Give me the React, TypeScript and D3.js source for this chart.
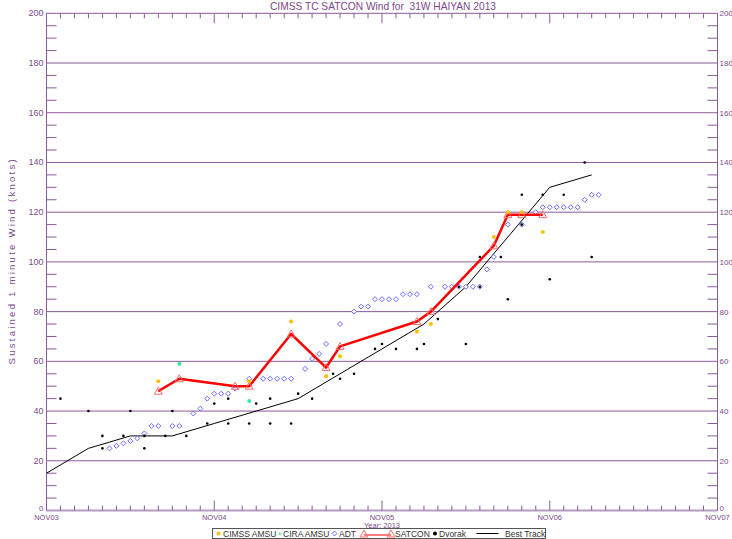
import React from 'react';
import * as d3 from 'd3';

// hours after NOV03 00Z, winds in knots
const bestTrackHours = [0, 6, 12, 18, 24, 30, 36, 42, 48, 54, 60, 66, 72, 78];
const bestTrackWind = [15, 25, 30, 30, 35, 40, 45, 55, 65, 75, 90, 110, 130, 135];

const satconHours = [16, 19, 27, 29, 35, 40, 42, 53, 55, 64, 66, 68, 71];
const satconWind = [48, 53, 50, 50, 71, 57.5, 66, 76, 80, 106.5, 119, 119, 119];

const cimssHours = [16, 29, 35, 40, 42, 53, 55, 64, 66, 68, 71];
const cimssWind = [52, 52, 76, 54, 62, 72, 75, 110, 120, 120, 112];

const ciraHours = [19, 29];
const ciraWind = [59, 44];

const adtHours = [9, 10, 11, 12, 13, 14, 15, 16, 18, 19, 21, 22, 23, 24, 25, 26, 27, 29, 31, 32, 33, 34, 35,
  37, 38, 39, 40, 42, 44, 45, 46, 47, 48, 49, 50, 51, 52, 53, 55, 57, 58, 59, 60, 61, 62, 63, 64, 66, 68,
  70, 71, 72, 73, 74, 75, 76, 77, 78, 79];
const adtWind = [25, 26, 27, 28, 29, 31, 34, 34, 34, 34, 39, 41, 45, 47, 47, 47, 49, 53, 53, 53, 53, 53, 53,
  57, 61, 63, 67, 75, 80, 82, 82, 85, 85, 85, 85, 87, 87, 87, 90, 90, 90, 90, 90, 90, 90, 97, 102, 115, 115,
  120, 122, 122, 122, 122, 122, 122, 125, 127, 127];

const dvorakHours = [2, 6, 8, 8, 11, 12, 14, 14, 17, 18, 20, 23, 24, 26, 26, 29, 30, 32, 32, 35, 36, 38,
  41, 42, 44, 47, 48, 50, 53, 54, 56, 59, 60, 62, 62, 65, 66, 68, 68, 71, 72, 74, 77, 78];
const dvorakWind = [45, 40, 30, 25, 30, 40, 30, 25, 30, 40, 30, 35, 43, 45, 35, 35, 43, 45, 35, 35, 47, 45,
  55, 53, 55, 65, 67, 65, 65, 67, 77, 90, 67, 90, 102, 102, 85, 127, 115, 127, 93, 127, 140, 102];

const dayLabels = ['NOV03', 'NOV04', 'NOV05', 'NOV06', 'NOV07'];
const windTicks = [0, 20, 40, 60, 80, 100, 120, 140, 160, 180, 200];

const purple = '#8a5a9a';
const textPurple = '#7a4a8a';
const font = '"Liberation Sans", Arial, sans-serif';

const zip = (hs: number[], ws: number[]) => hs.map((h, i) => ({ h, w: ws[i] }));

export default function App() {
  const width = 732;
  const height = 539;
  const left = 46.5;
  const right = 717.5;
  const top = 13.3;
  const bottom = 510.5;

  const x = d3.scaleLinear().domain([0, 96]).range([left, right]);
  const y = d3.scaleLinear().domain([0, 200]).range([bottom, top]);

  const line = d3
    .line<{ h: number; w: number }>()
    .x((d) => x(d.h))
    .y((d) => y(d.w));

  const best = zip(bestTrackHours, bestTrackWind);
  const satcon = zip(satconHours, satconWind);
  const cimss = zip(cimssHours, cimssWind);
  const cira = zip(ciraHours, ciraWind);
  const adt = zip(adtHours, adtWind);
  const dvorak = zip(dvorakHours, dvorakWind);

  const hourTicks = d3.range(0, 97, 2);
  const minorWind = d3.range(0, 201, 5).filter((v) => v % 20 !== 0);

  const tri = (cx: number, cy: number) =>
    `M${cx},${cy - 4}L${cx + 4},${cy + 3}L${cx - 4},${cy + 3}Z`;
  const diamond = (cx: number, cy: number) =>
    `M${cx},${cy - 2.5}L${cx + 2.5},${cy}L${cx},${cy + 2.5}L${cx - 2.5},${cy}Z`;

  // the zero label sits on the axis line so it clears the date labels below
  const labelY = (v: number) => (v === 0 ? y(v) : y(v) + 3);

  return (
    <>
      <style>{'body{margin:0}'}</style>
      <svg width={width} height={height} style={{ display: 'block', background: '#fff' }}>
        {/* title */}
        <text x={383} y={10} textAnchor="middle" fontFamily={font} fontSize={11} fill={textPurple}
          textLength={226} lengthAdjust="spacingAndGlyphs" style={{ whiteSpace: 'pre' }}>
          {'CIMSS TC SATCON Wind for  31W HAIYAN 2013'}
        </text>

        {/* gridlines and y labels */}
        {windTicks.map((v) => (
          <g key={'g' + v}>
            <line x1={left} x2={right} y1={y(v)} y2={y(v)} stroke={purple} strokeWidth={v === 0 ? 2 : 1}
              opacity={v === 0 ? 0.6 : 1} />
            <text x={left - 3} y={labelY(v)} textAnchor="end" fontFamily={font} fontSize={v === 0 ? 8 : 9} fill={textPurple}>{v}</text>
            <text x={right + 2} y={labelY(v)} textAnchor="start" fontFamily={font} fontSize={8} fill={textPurple}>{v}</text>
          </g>
        ))}
        {minorWind.map((v) => (
          <g key={'m' + v}>
            <line x1={left} x2={left + 10} y1={y(v)} y2={y(v)} stroke={purple} />
            <line x1={right - 10} x2={right} y1={y(v)} y2={y(v)} stroke={purple} />
          </g>
        ))}

        {/* frame */}
        <line x1={left} x2={left} y1={top} y2={bottom} stroke={purple} />
        <line x1={right} x2={right} y1={top} y2={bottom} stroke={purple} />

        {/* time ticks */}
        {hourTicks.map((h) => {
          const major = h % 24 === 0;
          const len = major ? 10 : 5;
          return (
            <g key={'t' + h}>
              <line x1={x(h)} x2={x(h)} y1={top} y2={top + len} stroke={purple} />
              <line x1={x(h)} x2={x(h)} y1={bottom} y2={bottom - len} stroke={purple} />
            </g>
          );
        })}
        {dayLabels.map((d, i) => (
          <text key={d} x={x(i * 24)} y={520} textAnchor="middle" fontFamily={font} fontSize={7.5} fill={textPurple}>{d}</text>
        ))}
        <text x={382} y={528} textAnchor="middle" fontFamily={font} fontSize={7.5} fill={textPurple}>Year: 2013</text>

        {/* y axis title */}
        <text transform={`translate(15,${(top + bottom) / 2}) rotate(-90)`} textAnchor="middle" fontFamily={font}
          fontSize={9.5} fill={textPurple} textLength={205} lengthAdjust="spacing">
          Sustained 1 minute Wind (knots)
        </text>

        {/* best track */}
        <path d={line(best) ?? ''} fill="none" stroke="#000" strokeWidth={1} />

        {/* ADT */}
        {adt.map((d, i) => (
          <path key={'a' + i} d={diamond(x(d.h), y(d.w))} fill="#fff" stroke="#6a6aff" strokeWidth={1} />
        ))}

        {/* Dvorak */}
        {dvorak.map((d, i) => (
          <circle key={'d' + i} cx={x(d.h)} cy={y(d.w)} r={1.3} fill="#000" />
        ))}

        {/* SATCON */}
        <path d={line(satcon) ?? ''} fill="none" stroke="#ff0000" strokeWidth={2.5} strokeLinejoin="round" />
        {satcon.map((d, i) => (
          <path key={'s' + i} d={tri(x(d.h), y(d.w))} fill="none" stroke="#ff6a6a" strokeWidth={1} />
        ))}

        {/* CIMSS AMSU */}
        {cimss.map((d, i) => (
          <circle key={'c' + i} cx={x(d.h)} cy={y(d.w)} r={2} fill="#ffbf00" />
        ))}

        {/* CIRA AMSU */}
        {cira.map((d, i) => (
          <circle key={'r' + i} cx={x(d.h)} cy={y(d.w)} r={2} fill="#33ee99" />
        ))}

        {/* legend */}
        <g fontFamily={font} fontSize={8.5} fill="#333">
          <rect x={212.5} y={528.5} width={333} height={10} fill="#fff" stroke="#555" />
          <circle cx={218.5} cy={533.5} r={2} fill="#ffbf00" />
          <text x={223} y={537}>CIMSS AMSU</text>
          <text x={279.5} y={537.5} textAnchor="middle" fill="#33ee99" fontSize={9}>*</text>
          <text x={283} y={537}>CIRA AMSU</text>
          <path d={diamond(334.5, 533.5)} fill="#fff" stroke="#6a6aff" />
          <text x={339} y={537}>ADT</text>
          <line x1={364} x2={391} y1={535} y2={535} stroke="#ff0000" />
          <path d={tri(364, 534)} fill="none" stroke="#ff6a6a" />
          <path d={tri(391, 534)} fill="none" stroke="#ff6a6a" />
          <text x={395} y={537}>SATCON</text>
          <circle cx={435} cy={533.5} r={2} fill="#000" />
          <text x={439} y={537}>Dvorak</text>
          <line x1={476.5} x2={498.5} y1={533.5} y2={533.5} stroke="#000" />
          <text x={505} y={537}>Best Track</text>
        </g>
      </svg>
    </>
  );
}
